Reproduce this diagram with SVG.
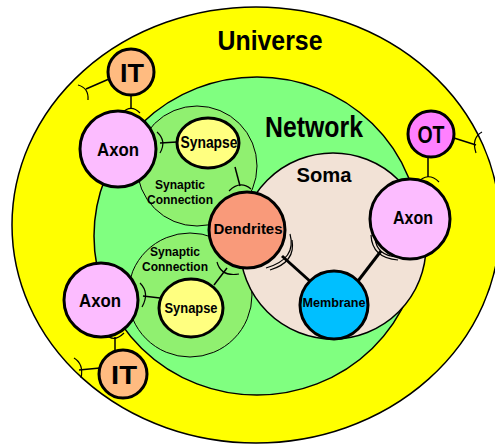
<svg xmlns="http://www.w3.org/2000/svg" width="495" height="444" viewBox="0 0 495 444">
<style>
text{font-family:"Liberation Sans",Arial,sans-serif;font-weight:bold;fill:#000;text-anchor:middle}
.node{stroke:#000;stroke-width:3}
.area{stroke:#000;stroke-width:1.5}
.sc{fill:#90f070;stroke:#000;stroke-width:1}
.ln{stroke:#000;stroke-width:1.5;fill:none}
.thick{stroke:#000;stroke-width:3;fill:none}
.br{stroke:#000;stroke-width:1.2;fill:none}
</style>
<rect width="495" height="444" fill="#fff"/>
<g id="universe"><ellipse cx="256" cy="225" rx="244" ry="218" fill="#ffff00" class="area"/><text x="270" y="50" font-size="28" textLength="105" lengthAdjust="spacingAndGlyphs">Universe</text></g>
<g id="network"><ellipse cx="257" cy="236" rx="163" ry="159" fill="#80ff80" class="area"/><text x="314" y="137" font-size="30" textLength="98" lengthAdjust="spacingAndGlyphs">Network</text></g>
<g id="synaptic-connection-1"><circle cx="197" cy="166" r="60" class="sc"/><text x="180" y="189" font-size="12">Synaptic</text><text x="180" y="204" font-size="12">Connection</text></g>
<g id="synaptic-connection-2"><circle cx="190" cy="295" r="62" class="sc"/><text x="175" y="256" font-size="12">Synaptic</text><text x="175" y="271" font-size="12">Connection</text></g>
<g id="soma"><circle cx="333" cy="246" r="93" fill="#f2e2d6" class="area"/><text x="324" y="182" font-size="21" textLength="55" lengthAdjust="spacingAndGlyphs">Soma</text></g>
<g id="connectors">
<line class="ln" x1="109" y1="79" x2="86" y2="89"/><path class="br" d="M78,85 Q89,88 88,100"/>
<line class="ln" x1="131" y1="95" x2="131" y2="109"/><path class="br" d="M122,113 Q131,104 140,113"/>
<line class="ln" x1="160" y1="143" x2="177" y2="142"/><path class="br" d="M157,132 Q167,141 160,153"/>
<line class="ln" x1="235" y1="167" x2="240" y2="186"/><path class="br" d="M229,191 Q240,180 251,189"/>
<line class="ln" x1="214" y1="285" x2="227" y2="268"/><path class="br" d="M217,262 Q221,277 239,274"/>
<line class="ln" x1="143" y1="296" x2="160" y2="298"/><path class="br" d="M140,283 Q150,293 142,307"/>
<line class="ln" x1="115" y1="337" x2="115" y2="351"/><path class="br" d="M105,334 Q114,343 124,333"/>
<line class="ln" x1="100" y1="368" x2="79" y2="370"/><path class="br" d="M74,358 Q84,364 81,378"/>
<line class="ln" x1="454" y1="138" x2="476" y2="145"/><path class="br" d="M482,132 Q471,138 476,153"/>
<line class="ln" x1="428" y1="157" x2="428" y2="177"/><path class="br" d="M417,183 Q428,171 439,182"/>
<line class="thick" x1="282" y1="256" x2="312" y2="283"/><path class="br" d="M290,234 Q297,259 266,268"/><path class="br" d="M292,240 Q296,262 270,270"/>
<line class="thick" x1="381" y1="251" x2="358" y2="281"/><path class="br" d="M371,235 Q372,258 398,260"/><path class="br" d="M375,237 Q376,256 398,257"/>
</g>
<g id="it-top"><circle cx="131" cy="72" r="23" fill="#ffbb80" class="node"/><text x="132" y="82" font-size="26" textLength="24" lengthAdjust="spacingAndGlyphs">IT</text></g>
<g id="axon-top"><circle cx="118" cy="149" r="38" fill="#fcbcff" class="node"/><text x="118" y="156" font-size="18" textLength="42" lengthAdjust="spacingAndGlyphs">Axon</text></g>
<g id="synapse-top"><ellipse cx="208" cy="143" rx="31" ry="25" fill="#ffff80" class="node"/><text x="209" y="148" font-size="16" textLength="57" lengthAdjust="spacingAndGlyphs">Synapse</text></g>
<g id="dendrites"><circle cx="247" cy="230" r="38" fill="#f99a7a" class="node"/><text x="248" y="234" font-size="15" textLength="69" lengthAdjust="spacingAndGlyphs">Dendrites</text></g>
<g id="synapse-bottom"><ellipse cx="191" cy="308" rx="32" ry="29" fill="#ffff80" class="node"/><text x="191" y="313" font-size="15" textLength="53" lengthAdjust="spacingAndGlyphs">Synapse</text></g>
<g id="axon-bottom"><circle cx="101" cy="300" r="37" fill="#fcbcff" class="node"/><text x="100" y="307" font-size="18" textLength="42" lengthAdjust="spacingAndGlyphs">Axon</text></g>
<g id="it-bottom"><circle cx="123" cy="374" r="24" fill="#ffbb80" class="node"/><text x="124" y="384" font-size="26" textLength="26" lengthAdjust="spacingAndGlyphs">IT</text></g>
<g id="axon-right"><circle cx="410" cy="219" r="40" fill="#fcbcff" class="node"/><text x="413" y="224" font-size="18" textLength="40" lengthAdjust="spacingAndGlyphs">Axon</text></g>
<g id="membrane"><circle cx="334" cy="305" r="34" fill="#00bfff" class="node"/><text x="334" y="307" font-size="13" textLength="63" lengthAdjust="spacingAndGlyphs">Membrane</text></g>
<g id="ot"><circle cx="431" cy="134" r="23" fill="#ff80ff" class="node"/><text x="431" y="143" font-size="24" textLength="27" lengthAdjust="spacingAndGlyphs">OT</text></g>
</svg>
